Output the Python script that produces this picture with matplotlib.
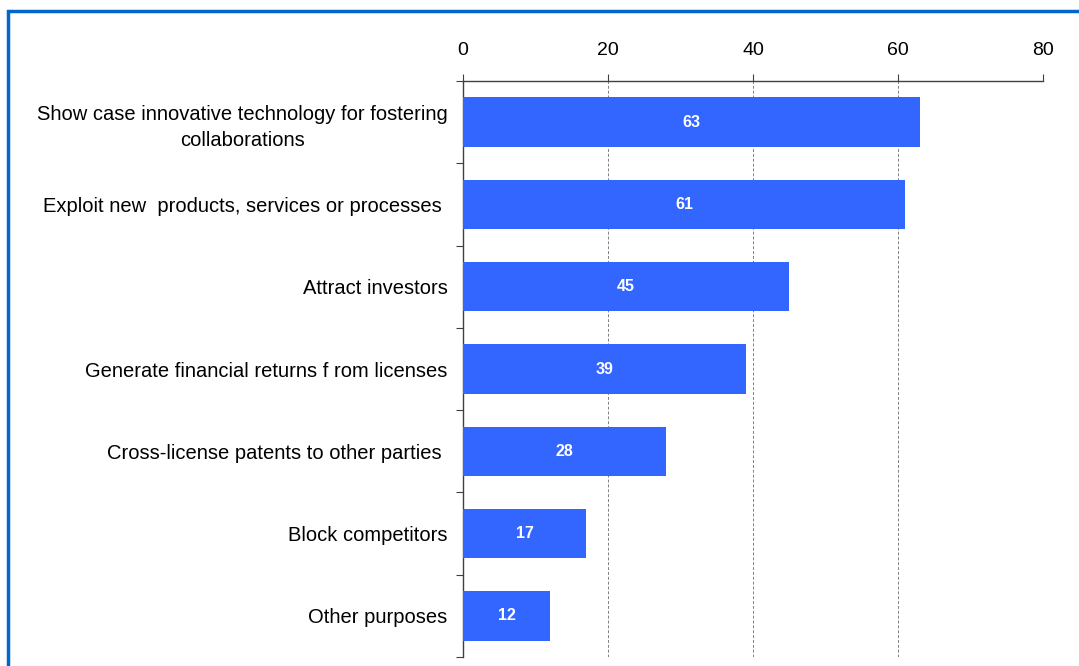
import numpy as np
import matplotlib
matplotlib.use("Agg")
import matplotlib.pyplot as plt
from matplotlib.patches import Rectangle
from matplotlib.ticker import FixedLocator

plt.rcParams['font.family'] = ['Liberation Sans', 'DejaVu Sans']

categories = [
    "Show case innovative technology for fostering\ncollaborations",
    "Exploit new  products, services or processes ",
    "Attract investors",
    "Generate financial returns f rom licenses",
    "Cross-license patents to other parties ",
    "Block competitors",
    "Other purposes",
]
values = [63, 61, 45, 39, 28, 17, 12]
xticks = [0, 20, 40, 60, 80]

bar_color = "#3366FF"
spine_color = "#404040"

fig = plt.figure(figsize=(10.79, 6.66), dpi=100)
ax = fig.add_axes([463 / 1079, 1 - 657 / 666, 580 / 1079, 576 / 666])

y = np.arange(len(categories))
bars = ax.barh(y, values, height=0.6, color=bar_color, zorder=3)

for b, v in zip(bars, values):
    ax.text(v / 2, b.get_y() + b.get_height() / 2, str(v), ha="center",
            va="center", color="white", fontsize=11.5, fontweight="bold", zorder=4)

ax.set_xlim(0, 80)
ax.set_ylim(len(categories) - 0.5, -0.5)

ax.xaxis.tick_top()
ax.set_xticks(xticks)
ax.tick_params(axis="x", which="major", length=5, width=0.8, color=spine_color,
               labelsize=14, pad=11)
ax.grid(axis="x", linestyle=(0, (3, 2)), color="#808080", linewidth=0.7, zorder=0)

ax.set_yticks(y)
ax.set_yticklabels(categories, fontsize=14.5, ha="right", multialignment="center",
                   linespacing=1.45)
ax.yaxis.set_minor_locator(FixedLocator(np.arange(len(categories) + 1) - 0.5))
ax.tick_params(axis="y", which="major", length=0, pad=11)
ax.tick_params(axis="y", which="minor", length=5, width=0.8, color=spine_color)

for side in ["right", "bottom"]:
    ax.spines[side].set_visible(False)
for side in ["left", "top"]:
    ax.spines[side].set_color(spine_color)
    ax.spines[side].set_linewidth(1.0)

# blue frame around the chart area
fig.patches.append(Rectangle((8 / 1079, -0.1), 1.2, 1 - 11 / 666 + 0.1,
                             transform=fig.transFigure, fill=False,
                             edgecolor="#0066CC", linewidth=2.5))

fig.savefig("out.png", dpi=100)
